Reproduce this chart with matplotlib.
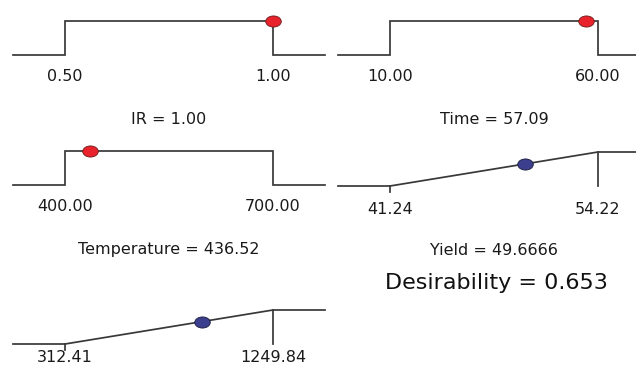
import matplotlib
matplotlib.use("Agg")
import matplotlib.pyplot as plt
from matplotlib.markers import MarkerStyle
from matplotlib.transforms import Affine2D

# ---- data ----
factor_names = ["IR", "Time", "Temperature"]
factor_low = [0.50, 10.00, 400.00]
factor_high = [1.00, 60.00, 700.00]
factor_value = [1.00, 57.09, 436.52]
factor_value_text = ["1.00", "57.09", "436.52"]

response_names = ["Yield", ""]
response_low = [41.24, 312.41]
response_high = [54.22, 1249.84]
response_value = [49.6666, 928.1]
response_value_text = ["49.6666", ""]

desirability = 0.653

# ---- layout (pixels) ----
W, H, DPI = 636, 369, 100
fig = plt.figure(figsize=(W / DPI, H / DPI), dpi=DPI)
fig.patch.set_facecolor("white")

LINE = "#383838"
RED = "#e8232b"
BLUE = "#3b3f8e"
PANEL_W = 312
PANEL_H = 34
PX2PT = 72.0 / DPI
FS = 11.5
TXT = "#1a1a1a"
LW = 1.25
MS = 8.0

ell = MarkerStyle("o", transform=Affine2D().scale(1.4, 1.0))


def make_ax(x0, baseline):
    ax = fig.add_axes([x0 / W, (H - baseline) / H, PANEL_W / W, PANEL_H / H])
    ax.set_ylim(0, 1)
    ax.axis("off")
    return ax


def add_labels(ax, low, high, label_off, title, title_off):
    for v in (low, high):
        ax.annotate(f"{v:.2f}", xy=(v, 0), xytext=(0, -label_off * PX2PT),
                    textcoords="offset points", ha="center", va="top",
                    fontsize=FS, color=TXT, annotation_clip=False)
    if title:
        ax.annotate(title, xy=(0.5, 0), xycoords="axes fraction",
                    xytext=(0, -title_off * PX2PT), textcoords="offset points",
                    ha="center", va="top", fontsize=FS, color=TXT,
                    annotation_clip=False)


# factor panels
factor_pos = [(13, 55), (338, 55), (13, 185)]
for i, name in enumerate(factor_names):
    lo, hi, val = factor_low[i], factor_high[i], factor_value[i]
    r = hi - lo
    xmin, xmax = lo - 0.25 * r, hi + 0.25 * r
    ax = make_ax(*factor_pos[i])
    ax.set_xlim(xmin, xmax)
    ax.plot([xmin, lo, lo, hi, hi, xmax], [0, 0, 1, 1, 0, 0], color=LINE,
            lw=LW, clip_on=False, solid_joinstyle="miter")
    ax.plot([val], [1], marker=ell, ms=MS, mfc=RED, mec="#6a1a1a", mew=0.6,
            clip_on=False, zorder=5)
    add_labels(ax, lo, hi, 14, f"{name} = {factor_value_text[i]}", 57)

# response panels
response_pos = [(338, 186), (13, 344)]
response_label_off = [16, 6]
for i, name in enumerate(response_names):
    lo, hi, val = response_low[i], response_high[i], response_value[i]
    r = hi - lo
    xmin, xmax = lo - 0.25 * r, hi + 0.25 * r
    ax = make_ax(*response_pos[i])
    ax.set_xlim(xmin, xmax)
    ax.plot([xmin, lo, hi, xmax], [0, 0, 1, 1], color=LINE, lw=LW,
            clip_on=False)
    ax.plot([hi, hi], [0, 1], color=LINE, lw=LW, clip_on=False)
    ax.plot([lo, lo], [-0.17, 0], color=LINE, lw=LW, clip_on=False)
    ax.plot([val], [(val - lo) / r], marker=ell, ms=MS, mfc=BLUE,
            mec="#1a1a3a", mew=0.6, clip_on=False, zorder=5)
    title = f"{name} = {response_value_text[i]}" if name else ""
    add_labels(ax, lo, hi, response_label_off[i], title, 57)

fig.text(496 / W, (H - 289) / H, f"Desirability = {desirability:.3f}",
         ha="center", va="baseline", fontsize=16, color="#111111")

fig.savefig("out.png", dpi=DPI)
